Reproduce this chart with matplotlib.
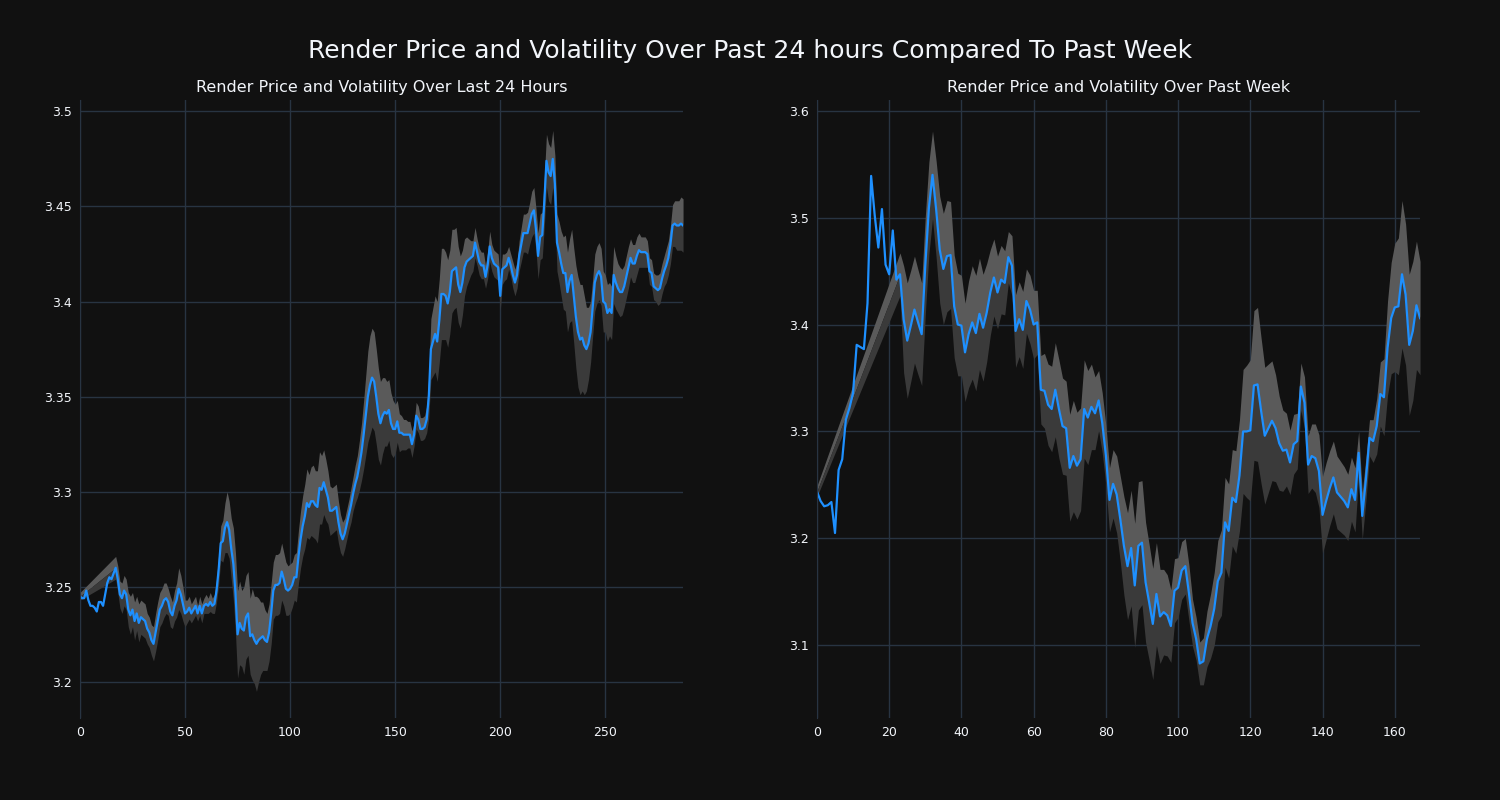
import numpy as np
import pandas as pd
import matplotlib
matplotlib.use('Agg')
import matplotlib.pyplot as plt

nan = np.nan

# Render price, last 24 hours (5 minute steps)
price_24h = [
    3.245, 3.244, 3.244, 3.248, 3.243, 3.240, 3.240, 3.239, 3.237, 3.242,
    3.242, 3.240, 3.246, 3.252, 3.255, 3.254, 3.257, 3.260, 3.254, 3.246,
    3.244, 3.248, 3.246, 3.238, 3.235, 3.238, 3.232, 3.236, 3.231, 3.234,
    3.233, 3.232, 3.228, 3.226, 3.222, 3.220, 3.226, 3.232, 3.238, 3.240,
    3.243, 3.244, 3.242, 3.237, 3.235, 3.240, 3.243, 3.249, 3.246, 3.241,
    3.236, 3.237, 3.239, 3.236, 3.238, 3.240, 3.236, 3.240, 3.236, 3.240,
    3.241, 3.240, 3.242, 3.240, 3.241, 3.248, 3.259, 3.273, 3.274, 3.281,
    3.284, 3.280, 3.270, 3.262, 3.247, 3.225, 3.231, 3.228, 3.227, 3.234,
    3.236, 3.224, 3.225, 3.222, 3.220, 3.222, 3.223, 3.224, 3.222, 3.221,
    3.226, 3.236, 3.248, 3.251, 3.251, 3.252, 3.258, 3.254, 3.249, 3.248,
    3.249, 3.251, 3.255, 3.255, 3.266, 3.275, 3.282, 3.287, 3.294, 3.292,
    3.295, 3.295, 3.293, 3.292, 3.302, 3.301, 3.305, 3.301, 3.297, 3.290,
    3.290, 3.291, 3.292, 3.284, 3.278, 3.275, 3.278, 3.283, 3.288, 3.293,
    3.299, 3.304, 3.308, 3.314, 3.321, 3.330, 3.340, 3.350, 3.356, 3.360,
    3.358, 3.350, 3.341, 3.336, 3.340, 3.342, 3.341, 3.343, 3.336, 3.333,
    3.333, 3.337, 3.331, 3.331, 3.330, 3.330, 3.330, 3.330, 3.325, 3.330,
    3.340, 3.338, 3.333, 3.333, 3.334, 3.338, 3.350, 3.375, 3.379, 3.383,
    3.379, 3.390, 3.404, 3.404, 3.403, 3.399, 3.405, 3.416, 3.417, 3.418,
    3.409, 3.405, 3.410, 3.418, 3.421, 3.422, 3.423, 3.424, 3.431, 3.426,
    3.421, 3.419, 3.419, 3.413, 3.419, 3.429, 3.423, 3.420, 3.419, 3.418,
    3.403, 3.417, 3.418, 3.419, 3.423, 3.419, 3.414, 3.410, 3.414, 3.424,
    3.430, 3.436, 3.436, 3.436, 3.441, 3.446, 3.448, 3.438, 3.424, 3.434,
    3.435, 3.453, 3.474, 3.468, 3.466, 3.475, 3.462, 3.431, 3.426, 3.420,
    3.415, 3.415, 3.405, 3.411, 3.414, 3.403, 3.392, 3.384, 3.380, 3.381,
    3.377, 3.375, 3.378, 3.384, 3.397, 3.410, 3.414, 3.416, 3.413, 3.400,
    3.399, 3.394, 3.396, 3.394, 3.414, 3.410, 3.407, 3.405, 3.405, 3.408,
    3.413, 3.418, 3.423, 3.420, 3.420, 3.424, 3.427, 3.426, 3.426, 3.426,
    3.425, 3.416, 3.415, 3.408, 3.407, 3.406, 3.407, 3.412, 3.416, 3.419,
    3.423, 3.430, 3.440, 3.441, 3.440, 3.440, 3.441, 3.440,
]

# volatility band half width, last 24 hours
vol_24h = [0.002] + [nan] * 16 + [
    0.006, 0.007, 0.007,
    0.008, 0.008, 0.008, 0.009, 0.010, 0.009, 0.010, 0.009, 0.010, 0.009,
    0.009, 0.009, 0.008, 0.008, 0.008, 0.009, 0.010, 0.010, 0.009, 0.009,
    0.009, 0.008, 0.007, 0.008, 0.007, 0.008, 0.009, 0.011, 0.010, 0.009,
    0.007, 0.006, 0.006, 0.005, 0.005, 0.005, 0.004, 0.005, 0.005, 0.004,
    0.005, 0.004, 0.005, 0.004, 0.005, 0.006, 0.008, 0.009, 0.011, 0.013,
    0.016, 0.015, 0.016, 0.019, 0.021, 0.023, 0.022, 0.020, 0.023, 0.022,
    0.022, 0.020, 0.024, 0.023, 0.025, 0.022, 0.019, 0.018, 0.016, 0.015,
    0.015, 0.016, 0.015, 0.016, 0.016, 0.016, 0.015, 0.014, 0.014, 0.013,
    0.013, 0.012, 0.012, 0.013, 0.014, 0.015, 0.016, 0.017, 0.018, 0.017,
    0.018, 0.019, 0.018, 0.019, 0.019, 0.018, 0.017, 0.016, 0.014, 0.013,
    0.012, 0.012, 0.012, 0.011, 0.010, 0.009, 0.008, 0.008, 0.008, 0.009,
    0.009, 0.010, 0.011, 0.013, 0.015, 0.018, 0.021, 0.024, 0.026, 0.026,
    0.026, 0.025, 0.024, 0.022, 0.020, 0.018, 0.017, 0.016, 0.016, 0.015,
    0.013, 0.011, 0.010, 0.009, 0.008, 0.008, 0.007, 0.007, 0.007, 0.006,
    0.007, 0.007, 0.006, 0.006, 0.006, 0.007, 0.011, 0.016, 0.018, 0.020,
    0.021, 0.022, 0.024, 0.024, 0.023, 0.023, 0.022, 0.022, 0.021, 0.021,
    0.020, 0.019, 0.017, 0.015, 0.013, 0.011, 0.009, 0.008, 0.008, 0.007,
    0.007, 0.007, 0.007, 0.006, 0.007, 0.008, 0.007, 0.007, 0.007, 0.007,
    0.008, 0.008, 0.007, 0.007, 0.006, 0.006, 0.007, 0.007, 0.007, 0.008,
    0.009, 0.010, 0.010, 0.011, 0.011, 0.012, 0.012, 0.011, 0.012, 0.012,
    0.012, 0.013, 0.014, 0.015, 0.015, 0.015, 0.015, 0.015, 0.016, 0.017,
    0.019, 0.020, 0.021, 0.022, 0.024, 0.025, 0.027, 0.029, 0.029, 0.028,
    0.026, 0.022, 0.019, 0.016, 0.015, 0.015, 0.015, 0.015, 0.015, 0.016,
    0.015, 0.015, 0.014, 0.014, 0.015, 0.014, 0.013, 0.013, 0.012, 0.011,
    0.011, 0.011, 0.010, 0.010, 0.010, 0.010, 0.009, 0.008, 0.008, 0.008,
    0.007, 0.007, 0.007, 0.007, 0.007, 0.008, 0.008, 0.008, 0.008, 0.009,
    0.009, 0.010, 0.011, 0.012, 0.013, 0.013, 0.014, 0.014,
]

# Render price, past week (hourly)
price_week = [
    3.244, 3.235, 3.230, 3.231, 3.234, 3.205, 3.264, 3.274, 3.311, 3.322,
    3.336, 3.381, 3.379, 3.377, 3.420, 3.539, 3.502, 3.472, 3.508, 3.456,
    3.447, 3.488, 3.442, 3.447, 3.405, 3.385, 3.399, 3.414, 3.402, 3.391,
    3.455, 3.509, 3.540, 3.508, 3.470, 3.452, 3.464, 3.465, 3.417, 3.400,
    3.399, 3.374, 3.391, 3.402, 3.392, 3.410, 3.397, 3.411, 3.430, 3.444,
    3.430, 3.442, 3.439, 3.463, 3.455, 3.394, 3.405, 3.395, 3.422, 3.414,
    3.400, 3.402, 3.339, 3.338, 3.325, 3.321, 3.339, 3.321, 3.305, 3.303,
    3.266, 3.277, 3.268, 3.274, 3.321, 3.313, 3.323, 3.317, 3.329, 3.308,
    3.278, 3.236, 3.251, 3.241, 3.218, 3.193, 3.174, 3.191, 3.156, 3.193,
    3.196, 3.159, 3.140, 3.120, 3.148, 3.127, 3.131, 3.128, 3.118, 3.151,
    3.154, 3.170, 3.174, 3.149, 3.121, 3.106, 3.083, 3.085, 3.106, 3.118,
    3.134, 3.160, 3.168, 3.215, 3.207, 3.238, 3.234, 3.259, 3.300, 3.300,
    3.301, 3.343, 3.344, 3.319, 3.296, 3.303, 3.310, 3.303, 3.289, 3.282,
    3.283, 3.271, 3.288, 3.291, 3.342, 3.327, 3.269, 3.277, 3.275, 3.263,
    3.222, 3.235, 3.247, 3.257, 3.243, 3.239, 3.235, 3.229, 3.246, 3.236,
    3.280, 3.221, 3.255, 3.294, 3.291, 3.305, 3.335, 3.332, 3.378, 3.406,
    3.416, 3.417, 3.447, 3.428, 3.381, 3.394, 3.418, 3.406,
]

# volatility band half width, past week
vol_week = [0.005] + [nan] * 22 + [
    0.020, 0.050, 0.054, 0.052, 0.050, 0.049, 0.048,
    0.046, 0.043, 0.041, 0.045, 0.050, 0.052, 0.052, 0.050, 0.048, 0.048,
    0.047, 0.046, 0.050, 0.053, 0.054, 0.052, 0.050, 0.046, 0.040, 0.036,
    0.034, 0.032, 0.030, 0.024, 0.028, 0.034, 0.035, 0.036, 0.030, 0.032,
    0.032, 0.030, 0.032, 0.035, 0.038, 0.040, 0.044, 0.046, 0.045, 0.044,
    0.050, 0.052, 0.050, 0.048, 0.046, 0.044, 0.040, 0.034, 0.028, 0.028,
    0.028, 0.030, 0.032, 0.036, 0.040, 0.046, 0.050, 0.054, 0.058, 0.060,
    0.058, 0.056, 0.054, 0.052, 0.048, 0.044, 0.040, 0.038, 0.034, 0.030,
    0.028, 0.027, 0.026, 0.026, 0.022, 0.020, 0.020, 0.022, 0.026, 0.030,
    0.034, 0.038, 0.040, 0.042, 0.044, 0.045, 0.048, 0.052, 0.058, 0.062,
    0.066, 0.070, 0.072, 0.068, 0.064, 0.060, 0.056, 0.050, 0.044, 0.038,
    0.034, 0.030, 0.028, 0.026, 0.022, 0.024, 0.027, 0.030, 0.032, 0.034,
    0.036, 0.036, 0.035, 0.034, 0.034, 0.033, 0.032, 0.031, 0.030, 0.030,
    0.020, 0.022, 0.020, 0.017, 0.020, 0.026, 0.030, 0.036, 0.044, 0.052,
    0.060, 0.064, 0.069, 0.066, 0.066, 0.065, 0.060, 0.053,
]

bg = '#111111'
grid_col = '#283442'
text_col = '#f2f5fa'


def draw(ax, price, vol, title, ylim):
    df = pd.DataFrame({'price': price, 'vol': vol})
    band = df.dropna()
    ax.fill_between(band.index, band['price'], band['price'] + band['vol'],
                    color='#5a5a5a', linewidth=0)
    ax.fill_between(band.index, band['price'] - band['vol'], band['price'],
                    color='#3a3a3a', linewidth=0)
    ax.plot(df.index, df['price'], color='#1e90ff', linewidth=1.6)
    ax.set_xlim(0, len(price) - 1)
    ax.set_ylim(*ylim)
    ax.set_facecolor(bg)
    ax.grid(True, color=grid_col, linewidth=1)
    ax.set_axisbelow(True)
    for side in ['top', 'right', 'bottom']:
        ax.spines[side].set_visible(False)
    ax.spines['left'].set_color(grid_col)
    ax.tick_params(colors=text_col, length=0, labelsize=9, pad=6)
    ax.set_title(title, color=text_col, fontsize=11.5, pad=6)


fig, (ax1, ax2) = plt.subplots(1, 2, figsize=(15, 8), dpi=100)
fig.patch.set_facecolor(bg)
plt.subplots_adjust(left=0.0533, right=0.9467, bottom=0.1025, top=0.875, wspace=0.222)

draw(ax1, price_24h, vol_24h, 'Render Price and Volatility Over Last 24 Hours', (3.181, 3.506))
draw(ax2, price_week, vol_week, 'Render Price and Volatility Over Past Week', (3.032, 3.610))

ax1.set_xticks([0, 50, 100, 150, 200, 250])
ax1.set_yticks([3.2, 3.25, 3.3, 3.35, 3.4, 3.45, 3.5])
ax1.set_yticklabels(['3.2', '3.25', '3.3', '3.35', '3.4', '3.45', '3.5'])
ax2.set_xticks([0, 20, 40, 60, 80, 100, 120, 140, 160])
ax2.set_yticks([3.1, 3.2, 3.3, 3.4, 3.5, 3.6])

fig.suptitle('Render Price and Volatility Over Past 24 hours Compared To Past Week',
             color=text_col, fontsize=18, y=0.951)

plt.savefig('out.png', facecolor=bg)
